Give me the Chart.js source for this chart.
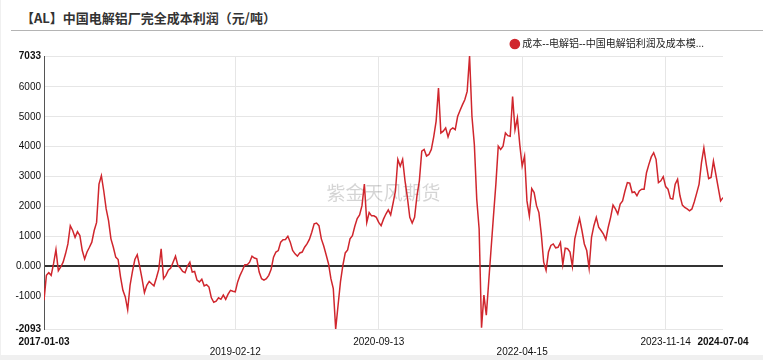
<!DOCTYPE html>
<html>
<head>
<meta charset="utf-8">
<script src="https://cdn.jsdelivr.net/npm/chart.js@4.4.0/dist/chart.umd.min.js"></script>
<style>
  body { margin: 0; background: #f0f0f0; width: 763px; height: 360px; overflow: hidden; }
  #card { position: absolute; left: 1px; top: 0; width: 762px; height: 355px; background: #fff; }
  #title { position: absolute; left: 20px; top: 8px; font: bold 13px "Noto Sans CJK SC", sans-serif; color: #333; white-space: nowrap; }
  #rule { position: absolute; left: 10px; right: 0; top: 30px; height: 1px; background: #b4b4b4; }
  #c { position: absolute; left: 0; top: 0; }
</style>
</head>
<body>
<div id="card">
  <div id="title">【AL】中国电解铝厂完全成本利润（元/吨）</div>
  <div id="rule"></div>
</div>
<canvas id="c" width="763" height="355"></canvas>
<script>
'use strict';

/* datos: un punto cada ~2.4 px */
const SERIES_NAME = '成本--电解铝--中国电解铝利润及成本模...';
const WATERMARK = '紫金天风期货';

const VALUES = [
  -1130, -300, -210, -300, 90, 560, -150, -20, 140, 420,
  750, 1360, 1200, 970, 1160, 1030, 530, 250, 480, 640,
  810, 1200, 1470, 2750, 3030, 2520, 1920, 1530, 920, 640,
  310, 230, -350, -800, -1020, -1450, -630, -170, 230, 390,
  10, -410, -880, -630, -500, -580, -650, -390, -100, 590,
  -410, -300, -130, -55, 140, 340, 30, -55, -170, -210,
  10, 140, -190, -170, -460, -520, -430, -650, -610, -690,
  -1050, -1200, -1160, -1050, -1100, -960, -1100, -930, -800, -830,
  -850, -520, -300, -130, 55, 55, 140, 340, 280, 250,
  -190, -410, -460, -410, -300, -100, 310, 480, 530, 810,
  890, 900, 1010, 810, 530, 420, 340, 450, 480, 640,
  750, 900, 1140, 1420, 1450, 1360, 920, 680, 390, 90,
  -410, -740, -2093, -1300, -520, 30, 450, 550, 920, 1030,
  1340, 1600, 1720, 2030, 2750, 1470, 1800, 1690, 1690, 1640,
  1470, 1360, 1580, 1750, 1890, 1720, 2110, 2520, 3580, 3350,
  3580, 2860, 2300, 1640, 1450, 1640, 2360, 2860, 3850, 3910,
  3690, 3740, 3910, 4330, 4850, 5960, 4460, 4520, 4630, 4330,
  4570, 4630, 4570, 5010, 5210, 5400, 5570, 5850, 7033, 5010,
  4070, 2250, 1250, -2050, -960, -1630, -520, 590, 1690, 2750,
  4020, 3910, 4020, 4460, 4370, 4350, 5680, 4570, 4960, 4070,
  3350, 3690, 2190, 1690, 2600, 2470, 2030, 1800, 1080, 140,
  -130, 480, 700, 750, 620, 640, 800, 60, 610, 590,
  480, 0, 920, 1270, 1600, 1200, 750, 530, -60, 970,
  1360, 1640, 1310, 1200, 1080, 900, 1310, 1640, 2050, 1920,
  1750, 2080, 2190, 2520, 2800, 2780, 2470, 2490, 2360, 2520,
  2580, 2580, 3130, 3410, 3660, 3800, 3580, 2800, 2860, 3000,
  2670, 2580, 2270, 2250, 2750, 2910, 2360, 2050, 1970, 1920,
  1860, 1920, 2160, 2450, 2750, 3470, 3960, 3410, 2930, 2970,
  3520, 3080, 2630, 2190, 2300
];

const X_TICK_INDEX  = [0, 80, 140, 200, 260, 284];
const X_TICK_LABELS = ['2017-01-03', '2019-02-12', '2020-09-13', '2022-04-15', '2023-11-14', '2024-07-04'];
const X_TICK_ROW    = [0, 1, 0, 1, 0, 0];

const Y_MIN = -2093, Y_MAX = 7033;
const Y_TICKS = [-2093, -1000, 0, 1000, 2000, 3000, 4000, 5000, 6000, 7033];
const Y_TICK_LABELS = ['-2093', '-1000', '0.000', '1000', '2000', '3000', '4000', '5000', '6000', '7033'];

const RED = '#d0262d';
const FONT = "'Liberation Sans', 'Noto Sans CJK SC', sans-serif";

const watermark = {
  id: 'watermark',
  beforeDatasetsDraw(chart) {
    const { ctx, chartArea: a } = chart;
    ctx.save();
    ctx.font = '19px "Noto Sans CJK SC", sans-serif';
    ctx.fillStyle = 'rgba(0,0,0,0.17)';
    ctx.textAlign = 'center';
    ctx.textBaseline = 'middle';
    ctx.fillText(WATERMARK, (a.left + a.right) / 2, (a.top + a.bottom) / 2);
    ctx.restore();
  }
};

// la leyenda va un poco más abajo y a la izquierda que su caja por defecto
const nudgeLegend = {
  id: 'nudgeLegend',
  afterLayout(chart) {
    const lg = chart.legend;
    lg.top += 3; lg.bottom += 3;
    lg.right -= 16;
  }
};

new Chart(document.getElementById('c'), {
  type: 'line',
  data: {
    datasets: [{
      label: SERIES_NAME,
      data: VALUES.map((v, i) => ({ x: i, y: v })),
      borderColor: RED,
      backgroundColor: RED,
      borderWidth: 1.5,
      pointRadius: 0,
      tension: 0
    }]
  },
  options: {
    responsive: false,
    animation: false,
    layout: { padding: { top: 33, right: 40, bottom: 0, left: 0 } },
    plugins: {
      legend: {
        position: 'top',
        align: 'end',
        labels: {
          usePointStyle: true,
          pointStyle: 'circle',
          boxWidth: 5,
          boxHeight: 6.5,
          padding: 3,
          color: '#222',
          font: { family: FONT, size: 10 }
        }
      },
      tooltip: { enabled: false }
    },
    scales: {
      x: {
        type: 'linear',
        min: 0,
        max: VALUES.length - 1,
        afterBuildTicks: s => { s.ticks = X_TICK_INDEX.map(v => ({ value: v })); },
        afterFit: s => { s.height = 26; },
        border: { display: false },
        grid: {
          drawTicks: false,
          color: c => (c.index === 0 || c.index === X_TICK_INDEX.length - 1) ? 'rgba(0,0,0,0)' : '#e6e6e6'
        },
        ticks: {
          autoSkip: false,
          maxRotation: 0,
          padding: 8,
          color: '#111',
          font: c => ({ family: FONT, size: 10, lineHeight: 1.0,
            weight: (c.index === 0 || c.index === X_TICK_INDEX.length - 1) ? 'bold' : 'normal' }),
          callback: (v, i) => X_TICK_ROW[i] ? ['', X_TICK_LABELS[i]] : X_TICK_LABELS[i]
        }
      },
      y: {
        min: Y_MIN,
        max: Y_MAX,
        afterBuildTicks: s => { s.ticks = Y_TICKS.map(v => ({ value: v })); },
        afterFit: s => { s.width = 44; },
        border: { display: true, color: '#555', width: 1 },
        grid: {
          drawTicks: false,
          color: c => c.tick && c.tick.value === 0 ? '#333' : '#e6e6e6',
          lineWidth: c => c.tick && c.tick.value === 0 ? 2 : 1
        },
        ticks: {
          padding: 3,
          color: '#111',
          font: c => ({ family: FONT, size: 10,
            weight: (c.tick && (c.tick.value === Y_MIN || c.tick.value === Y_MAX)) ? 'bold' : 'normal' }),
          callback: (v, i) => Y_TICK_LABELS[i]
        }
      }
    }
  },
  plugins: [watermark, nudgeLegend]
});
</script>
</body>
</html>
